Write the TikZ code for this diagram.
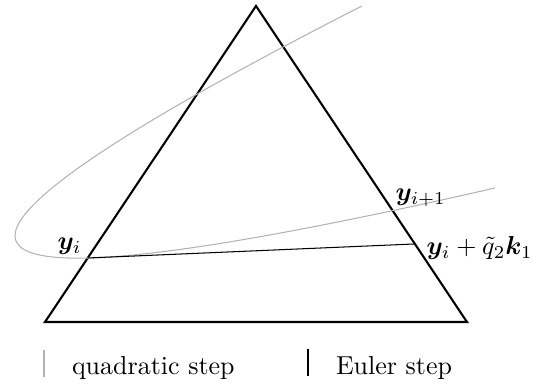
\documentclass[tikz,border=0pt]{standalone}
\usepackage{amsmath,bm}
\begin{document}
\begin{tikzpicture}[x={(0.385pt,0pt)},y={(0pt,-0.385pt)},
  tri/.style={black,thick,line join=miter},
  quad/.style={gray!60,line width=0.4pt},
  euler/.style={black,line width=0.4pt},
  lab/.style={inner sep=0pt}]
\useasboundingbox (0,0) rectangle (533,389);
% triangle
\coordinate (top) at (256,6);
\coordinate (bl) at (45,322);
\coordinate (br) at (467,322);
\draw[tri] (top) -- (bl) -- (br) -- cycle;
% points
\coordinate (yi) at (88,258);
\coordinate (qs) at (361.9,6);
\coordinate (qe) at (495,188);
\coordinate (eu) at (414,244);
% quadratic step (parabola)
\draw[quad] (qs) .. controls (24.6,178.1) and (-66.8,262.1) .. (yi)
            .. controls (164.1,256) and (299.8,232.7) .. (qe);
% Euler step
\draw[euler] (yi) -- (eu);
% labels
\node[lab,anchor=base east] (lyi) at (82,249.5) {$\bm{y}_i$};
\node[lab,anchor=base west] (lyn) at (395,200.5) {$\bm{y}_{i+1}$};
\node[lab,anchor=base west] (leu) at (426,254.5) {$\bm{y}_i+\tilde{q}_2\bm{k}_1$};
% legend
\coordinate (lq1) at (44,350);
\coordinate (lq2) at (44,377);
\coordinate (le1) at (308,349);
\coordinate (le2) at (308,376);
\draw[quad] (lq1) -- (lq2);
\draw[euler] (le1) -- (le2);
\node[lab,anchor=base west] (tq) at (71.5,375) {quadratic step};
\node[lab,anchor=base west] (te) at (335.5,375) {Euler step};
\end{tikzpicture}
\end{document}
